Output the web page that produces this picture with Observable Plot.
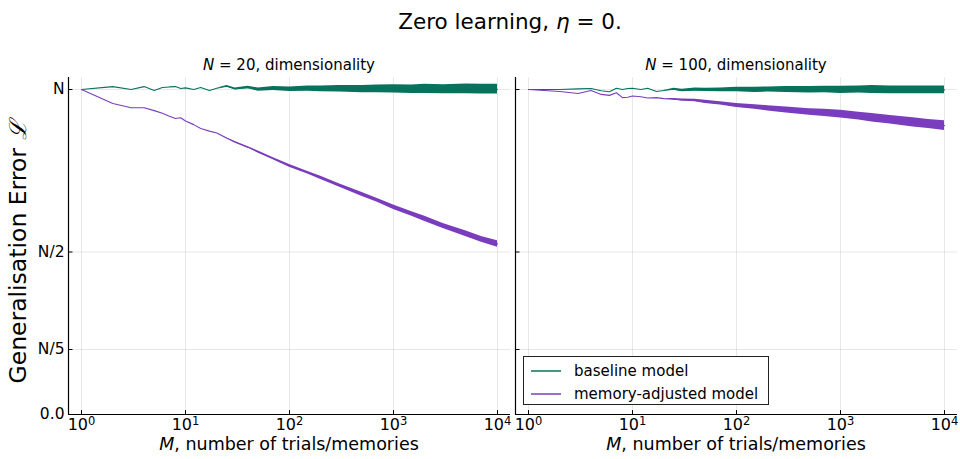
<!DOCTYPE html>
<html>
<head>
<meta charset="utf-8">
<script src="https://cdn.jsdelivr.net/npm/d3@7"></script>
<script src="https://cdn.jsdelivr.net/npm/@observablehq/plot@0.6"></script>
<style>
  html, body { margin: 0; padding: 0; background: #fff; }
  #wrap { position: relative; width: 960px; height: 459px; font-family: "DejaVu Sans", sans-serif; color: #000; overflow: hidden; }
  .txt { position: absolute; white-space: nowrap; line-height: 1; }
  .panel { position: absolute; top: 0; }
  .panel svg { overflow: visible; background: transparent; }
  #legend { position: absolute; left: 523px; top: 356px; width: 244px; height: 47px; border: 1px solid #222; background: #fff; font-size: 15px; }
  .li { position: absolute; left: 0; height: 20px; display: flex; align-items: center; }
  .li svg { margin-left: 7px; margin-right: 13px; }
</style>
</head>
<body>
<div id="wrap">
  <div class="txt" id="title" style="left:510px; top:11px; font-size:21.5px; transform:translateX(-50%);">Zero learning, <i>η</i> = 0.</div>
  <div class="txt" style="left:289px; top:58px; font-size:15px; transform:translateX(-50%);"><i>N</i> = 20, dimensionality</div>
  <div class="txt" style="left:736px; top:58px; font-size:15px; transform:translateX(-50%);"><i>N</i> = 100, dimensionality</div>
  <div class="txt" style="left:19px; top:252px; font-size:23.5px; transform:translate(-50%,-50%) rotate(-90deg);">Generalisation Error <i style="font-family:'DejaVu Serif',serif;">ℒ</i></div>
  <div class="txt" style="left:289px; top:436px; font-size:17.5px; transform:translateX(-50%);"><i>M</i>, number of trials/memories</div>
  <div class="txt" style="left:736px; top:436px; font-size:17.5px; transform:translateX(-50%);"><i>M</i>, number of trials/memories</div>
  <div class="panel" id="left" style="left:0px;"></div>
  <div class="panel" id="right" style="left:505px;"></div>
  <div id="legend"></div>
</div>
<script>
// ---- data ----
const M = [1,2,3,4,5,6,7,8,9,10,12,14,17,20,25,30,40,50,70,100,150,200,300,500,700,1000,1500,2000,3000,5000,7000,10000];

const baseN20 = [1.0,1.009,1.0,1.009,0.997,1.006,1.008,1.009,1.003,1.005,1.0,1.006,0.997,1.004,1.01,1.002,1.006,1.0,1.003,1.001,1.003,1.002,1.002,1.001,1.002,1.002,1.001,1.002,1.001,1.002,1.001,1.001];
const baseN20Spread = [0,0,0,0,0,0,0,0,0,0,0,0,0,0,0.002,0.003,0.004,0.005,0.006,0.007,0.008,0.009,0.01,0.011,0.012,0.013,0.013,0.014,0.014,0.015,0.015,0.015];
const memN20 = [1.0,0.957,0.944,0.944,0.935,0.927,0.918,0.911,0.913,0.903,0.892,0.88,0.872,0.866,0.85,0.838,0.822,0.808,0.787,0.765,0.744,0.728,0.705,0.677,0.659,0.638,0.617,0.602,0.58,0.556,0.539,0.525];
const memN20Spread = [0,0,0,0,0,0,0,0,0,0,0,0,0,0,0.001,0.002,0.002,0.003,0.003,0.004,0.004,0.005,0.005,0.006,0.006,0.007,0.007,0.008,0.008,0.009,0.009,0.01];

const baseN100 = [1.0,1.0,1.002,1.003,0.996,0.993,1.004,1.0,1.003,1.004,1.0,1.004,0.994,0.997,1.001,0.997,1.0,0.999,0.999,1.0,0.999,1.0,1.0,0.999,1.0,0.999,1.0,1.0,0.999,0.999,0.999,0.999];
const baseN100Spread = [0,0,0,0,0,0,0,0,0,0,0,0,0,0,0.003,0.004,0.005,0.005,0.006,0.007,0.008,0.008,0.009,0.01,0.01,0.011,0.011,0.012,0.012,0.012,0.012,0.012];
const memN100 = [1.0,0.994,0.988,0.997,0.985,0.982,0.99,0.975,0.976,0.98,0.978,0.974,0.975,0.972,0.97,0.968,0.966,0.962,0.957,0.951,0.946,0.942,0.937,0.931,0.928,0.924,0.918,0.913,0.907,0.899,0.894,0.889];
const memN100Spread = [0,0,0,0,0,0,0,0,0,0,0,0,0,0,0.002,0.003,0.004,0.005,0.005,0.006,0.007,0.008,0.009,0.01,0.011,0.012,0.012,0.013,0.013,0.014,0.014,0.015];

const xTicks = [1, 10, 100, 1000, 10000];
const xTickExponents = ["0", "1", "2", "3", "4"];
const yTicks = [0, 0.2, 0.5, 1];
const yTickLabels = ["0.0", "N/5", "N/2", "N"];
const seriesNames = ["baseline model", "memory-adjusted model"];
const seriesColors = ["#08725c", "#7a3dbd"];

// ---- drawing ----
const xDomain = [Math.pow(10, -0.125), Math.pow(10, 4.125)];
const yDomain = [0, 1.037];

function rows(vals, spread) {
  return M.map((m, i) => ({M: m, v: vals[i], s: spread[i]}));
}

function panel(base, baseS, mem, memS, opts) {
  const b = rows(base, baseS), m = rows(mem, memS);
  const bandStart = 13;
  const tickX2 = xDomain[0] * Math.pow(10, 4.5 / 104);
  const marks = [
    Plot.gridX(xTicks, {stroke: "#000", strokeOpacity: 0.09}),
    Plot.gridY(yTicks, {stroke: "#000", strokeOpacity: 0.09}),
    Plot.areaY(b.slice(bandStart), {x: "M", y1: d => d.v - d.s, y2: d => d.v + d.s, fill: seriesColors[0]}),
    Plot.areaY(m.slice(bandStart), {x: "M", y1: d => d.v - d.s, y2: d => d.v + d.s, fill: seriesColors[1]}),
    Plot.line(b, {x: "M", y: "v", stroke: seriesColors[0], strokeWidth: 1.1}),
    Plot.line(m, {x: "M", y: "v", stroke: seriesColors[1], strokeWidth: 1.1}),
    Plot.ruleX(xTicks, {x: d => d, y1: 0, y2: 0.012, stroke: "#000", strokeWidth: 1}),
    Plot.ruleY(yTicks, {y: d => d, x1: xDomain[0], x2: tickX2, stroke: "#000", strokeWidth: 1}),
    Plot.ruleX([xDomain[0]], {stroke: "#000", strokeWidth: 1.2}),
    Plot.ruleY([0], {stroke: "#000", strokeWidth: 1.2}),
    Plot.axisX(xTicks, {tickSize: 0, tickPadding: 4, tickFormat: d => "10^" + xTickExponents[xTicks.indexOf(d)], fontSize: 16, label: null})
  ];
  if (opts.showY) {
    marks.push(Plot.axisY(yTicks, {tickSize: 0, tickPadding: 4, tickFormat: d => yTickLabels[yTicks.indexOf(d)], fontSize: 15.5, label: null}));
  }
  const svg = Plot.plot({
    width: opts.width,
    height: 459,
    marginLeft: opts.marginLeft,
    marginRight: opts.marginRight,
    marginTop: 77,
    marginBottom: 45,
    x: {type: "log", domain: xDomain, axis: null},
    y: {domain: yDomain, axis: null},
    style: {fontFamily: "DejaVu Sans, sans-serif", fontSize: "15px", background: "transparent", overflow: "visible", color: "#000"},
    marks
  });
  // turn "10^k" tick labels into 10 with a superscript
  svg.querySelectorAll("text").forEach(t => {
    const s = t.textContent;
    if (s.startsWith("10^")) {
      const exp = s.slice(3);
      t.textContent = "";
      const ns = "http://www.w3.org/2000/svg";
      const base = document.createElementNS(ns, "tspan");
      base.textContent = "10";
      const sup = document.createElementNS(ns, "tspan");
      sup.textContent = exp;
      sup.setAttribute("dy", "-0.45em");
      sup.setAttribute("font-size", "11.5");
      t.appendChild(base);
      t.appendChild(sup);
    }
  });
  return svg;
}

document.getElementById("left").appendChild(panel(baseN20, baseN20Spread, memN20, memN20Spread, {showY: true, width: 510, marginLeft: 68, marginRight: 0}));
document.getElementById("right").appendChild(panel(baseN100, baseN100Spread, memN100, memN100Spread, {showY: false, width: 455, marginLeft: 10, marginRight: 3}));

const legend = document.getElementById("legend");
seriesNames.forEach((name, i) => {
  const item = document.createElement("div");
  item.className = "li";
  item.style.top = (4 + i * 23) + "px";
  item.innerHTML = `<svg width="30" height="4"><line x1="0" x2="30" y1="2" y2="2" stroke="${seriesColors[i]}" stroke-width="1.5"/></svg><span></span>`;
  item.querySelector("span").textContent = name;
  legend.appendChild(item);
});
</script>
</body>
</html>
